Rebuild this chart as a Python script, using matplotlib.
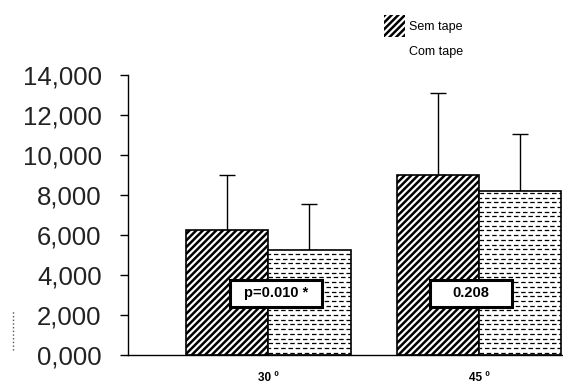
import numpy as np
import matplotlib.pyplot as plt
from matplotlib.lines import Line2D
from matplotlib.patches import Rectangle
from matplotlib.ticker import FuncFormatter

plt.rcParams['font.family'] = ['Liberation Sans', 'DejaVu Sans']
plt.rcParams['hatch.linewidth'] = 1.8
plt.rcParams['hatch.color'] = 'black'

# angles and group means / SD (thousands)
angles = ['30 º', '45 º']
sem_tape = [6.25, 9.0]
sem_tape_sd = [2.75, 4.1]
com_tape = [5.25, 8.2]
com_tape_sd = [2.3, 2.85]
p_values = ['p=0.010 *', '0.208']
series_names = ['Sem tape', 'Com tape']
y_ticks = [0, 2, 4, 6, 8, 10, 12, 14]

W, H = 563, 387
fig = plt.figure(figsize=(W / 100, H / 100), dpi=100)
ax = fig.add_axes([128 / W, 32 / H, 435 / W, 280 / H])

x = np.arange(len(angles))
w = 0.39

bars_sem = ax.bar(x - w / 2, sem_tape, w, color='white', edgecolor='black',
                  linewidth=1.2, hatch='/////', zorder=2)
bars_com = ax.bar(x + w / 2, com_tape, w, color='white', edgecolor='black',
                  linewidth=1.2, zorder=2)

# upward-only error bars
ax.errorbar(x - w / 2, sem_tape, yerr=[[0] * 2, sem_tape_sd], fmt='none',
            ecolor='black', elinewidth=1, capsize=6, capthick=1, zorder=1)
ax.errorbar(x + w / 2, com_tape, yerr=[[0] * 2, com_tape_sd], fmt='none',
            ecolor='black', elinewidth=1, capsize=6, capthick=1, zorder=1)

# dashed horizontal fill for the "com tape" bars
for b in bars_com:
    x0, x1 = b.get_x(), b.get_x() + b.get_width()
    rows = np.arange(0.12, b.get_height(), 0.235)
    for i, yy in enumerate(rows):
        ln, = ax.plot([x0, x1], [yy, yy], color='black', lw=0.9,
                      linestyle=(1.45 * (i % 2), (3.6, 2.2)), zorder=3)
        ln.set_clip_path(b)

# p-value boxes
box_w = [0.437, 0.39]
box_x = [0.036, 0.96]
for bx, bw, txt in zip(box_x, box_w, p_values):
    ax.add_patch(Rectangle((bx - bw / 2, 3.08 - 0.675), bw, 1.35,
                           facecolor='white', edgecolor='black', lw=2.2, zorder=4))
    ax.text(bx, 3.08, txt, ha='center', va='center', fontsize=10.5,
            fontweight='bold', zorder=5)

ax.set_xlim(-0.667, 1.399)
ax.set_ylim(0, 14)
ax.set_yticks(y_ticks)
ax.yaxis.set_major_formatter(FuncFormatter(lambda v, _: f'{v:.3f}'.replace('.', ',')))
ax.tick_params(axis='y', length=6, width=1, pad=13, labelsize=18.5,
               labelcolor='#222222')
ax.set_xticks(x)
ax.set_xticklabels(angles, fontsize=8.5, fontweight='bold')
ax.tick_params(axis='x', length=0, pad=12)
for s in ['top', 'right']:
    ax.spines[s].set_visible(False)
ax.spines['left'].set_linewidth(1)
ax.spines['bottom'].set_linewidth(1)

# key in the upper right: hatched swatch for "sem tape", plain for "com tape"
fig.add_artist(Rectangle((384 / W, 1 - 37 / H), 21 / W, 22 / H,
                         facecolor='white', edgecolor='black', hatch='/////',
                         lw=0, transform=fig.transFigure))
fig.text(409 / W, 1 - 27 / H, series_names[0], fontsize=9, va='center')
fig.text(409 / W, 1 - 52 / H, series_names[1], fontsize=9, va='center')

# small dotted mark at left margin
fig.add_artist(Line2D([13 / W, 13 / W], [37 / H, 77 / H],
                      color='#555555', lw=1, linestyle=':'))

fig.savefig('out.png', dpi=100)
